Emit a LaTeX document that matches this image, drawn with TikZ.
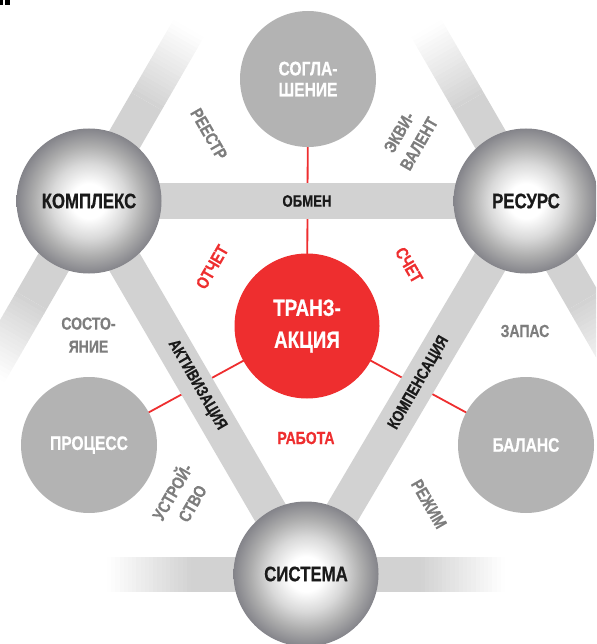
\documentclass[tikz,border=0pt]{standalone}
\usepackage{fontspec}
\newfontfamily\cf[FakeStretch=0.8,FakeBold=0.6]{Liberation Sans}
\definecolor{bandgray}{HTML}{D2D2D2}
\definecolor{discgray}{HTML}{B3B3B3}
\definecolor{tred}{HTML}{EE2E2F}
\definecolor{labgray}{HTML}{7D7D7D}
\definecolor{sphedge}{HTML}{84848A}
\definecolor{ink}{HTML}{1A1A1A}
\pgfdeclareradialshading{spheregrad}{\pgfpoint{0bp}{0bp}}{color(0bp)=(white); color(6bp)=(white); color(13bp)=(black!15); color(19bp)=(black!32); color(25bp)=(sphedge); color(50bp)=(sphedge)}
\newcommand\fadeband[4]{%
  \draw[band] ({#1-115*#3},{#2-115*#4}) -- ({#1+115*#3},{#2+115*#4});
  \foreach \i in {0,...,19}{%
    \pgfmathsetmacro\da{115+4.2*\i}%
    \pgfmathsetmacro\db{\da+4.6}%
    \pgfmathtruncatemacro\pc{97-5*\i}%
    \draw[line width=35pt, draw=bandgray!\pc!white] ({#1+\da*#3},{#2+\da*#4}) -- ({#1+\db*#3},{#2+\db*#4});
    \draw[line width=35pt, draw=bandgray!\pc!white] ({#1-\da*#3},{#2-\da*#4}) -- ({#1-\db*#3},{#2-\db*#4});
  }%
}
\tikzset{
  band/.style={line width=35pt, draw=bandgray},
  redline/.style={draw=tred, line width=1.8pt},
  spherenode/.style={circle, minimum size=145pt, inner sep=0pt, shade, shading=spheregrad, text=ink,
    font=\cf\bfseries\fontsize{21}{24}\selectfont},
  disc/.style={circle, minimum size=136pt, inner sep=0pt, fill=discgray, text=white, align=center,
    font=\cf\bfseries\fontsize{19.5}{21}\selectfont},
  core/.style={circle, minimum size=145pt, inner sep=0pt, fill=tred, text=white, align=center,
    font=\cf\bfseries\fontsize{23.5}{32}\selectfont},
  bandlabel/.style={inner sep=0pt, text=ink, font=\cf\bfseries\fontsize{16.5}{18}\selectfont},
  glabel/.style={inner sep=0pt, text=labgray, align=center, font=\cf\bfseries\fontsize{17.5}{23}\selectfont},
  rlabel/.style={inner sep=0pt, text=tred, align=center, font=\cf\bfseries\fontsize{17.5}{23}\selectfont},
}
\begin{document}
\begin{tikzpicture}[x=1pt,y=-1pt]
\useasboundingbox (0,0) rectangle (596,644);
\clip (0,0) rectangle (596,644);
% corner fragment
\fill[black] (0,0) rectangle (2.5,5);
\fill[black] (5,0) rectangle (10,5);
% positions
\coordinate (K) at (89,201);
\coordinate (R) at (526,201);
\coordinate (S) at (306,574);
\coordinate (T) at (307,326);
\coordinate (G) at (308,79);
\coordinate (P) at (89,445);
\coordinate (B) at (526,445);
% outer fading bands
\fadeband{89}{201}{0.5}{-0.866}
\fadeband{526}{201}{0.5}{0.866}
\fadeband{306}{574}{1}{0}
% red links
\draw[redline] (T) -- (G);
\draw[redline] (T) -- (P);
\draw[redline] (T) -- (B);
% triangle bands
\draw[band] (K) -- (R);
\draw[band] (K) -- (S);
\draw[band] (R) -- (S);
% nodes
\node[spherenode] (kompleks) at (K) {КОМПЛЕКС};
\node[spherenode] (resurs) at (R) {РЕСУРС};
\node[spherenode] (sistema) at (S) {СИСТЕМА};
\node[core] (tranz) at (T) {ТРАНЗ-\\АКЦИЯ};
\node[disc] (sogl) at (G) {СОГЛА-\\ШЕНИЕ};
\node[disc] (proc) at (P) {ПРОЦЕСС};
\node[disc] (bal) at (B) {БАЛАНС};
% band labels
\node[bandlabel] (obmen) at (307,201) {ОБМЕН};
\node[bandlabel, rotate=-60] (aktiv) at (197,385) {АКТИВИЗАЦИЯ};
\node[bandlabel, rotate=60] (komp) at (419,383) {КОМПЕНСАЦИЯ};
% grey labels
\node[glabel, rotate=-60] (reestr) at (209,134) {РЕЕСТР};
\node[glabel, rotate=60] (ekvi) at (409,138) {ЭКВИ-\\ВАЛЕНТ};
\node[glabel] (sost) at (88.5,335) {СОСТО-\\ЯНИЕ};
\node[glabel] (zapas) at (525,331) {ЗАПАС};
\node[glabel, rotate=60] (ustr) at (181,497) {УСТРОЙ-\\СТВО};
\node[glabel, rotate=-60] (rezhim) at (429,504) {РЕЖИМ};
% red labels
\node[rlabel, rotate=60] (otchet) at (212,267) {ОТЧЕТ};
\node[rlabel, rotate=-60] (schet) at (409,265) {СЧЕТ};
\node[rlabel] (rabota) at (306,438) {РАБОТА};
\end{tikzpicture}
\end{document}
